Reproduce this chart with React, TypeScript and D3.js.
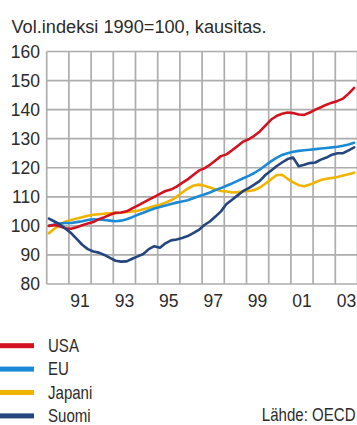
import React from "react";
import * as d3 from "d3";

const W = 357;
const H = 425;

const startYear = 1990;
const yTicks = [80, 90, 100, 110, 120, 130, 140, 150, 160];
const xTickYears = [1991, 1993, 1995, 1997, 1999, 2001, 2003];
const xTickLabels = ["91", "93", "95", "97", "99", "01", "03"];

// quarterly values 1990Q1 .. 2003Q4
const usa = [
  100, 100.3, 99.8, 99.2,
  99, 99.5, 100.2, 100.8,
  101.3, 102.3, 103, 103.8,
  104.5, 104.6, 105, 106,
  107, 108, 109, 110,
  111, 112, 112.5, 113.5,
  114.8, 116, 117.5, 119,
  119.8, 121, 122.5, 124,
  124.6, 126, 127.5, 129,
  129.8, 131, 132.5, 134.5,
  136.5, 137.8, 138.6, 139,
  138.8, 138.3, 138.2, 139,
  140, 140.8, 141.7, 142.4,
  143, 143.8, 145.5, 147.5,
];
const eu = [
  100, 100.5, 100.8, 101,
  101, 101.3, 101.6, 102,
  102.3, 102.2, 102, 101.8,
  101.6, 101.8, 102.3, 103,
  103.8, 104.5, 105.3, 106,
  106.5, 107, 107.5, 108,
  108.4, 108.8, 109.5, 110.2,
  110.8, 111.5, 112.3, 113,
  113.8, 114.6, 115.5, 116.4,
  117.2, 118.2, 119.4, 120.8,
  122.2, 123.4, 124.4, 125,
  125.5, 125.8, 126, 126.2,
  126.4, 126.6, 126.8, 127,
  127.2, 127.6, 128, 128.6,
];
const japani = [
  97.5, 99, 100.5, 101.5,
  102, 102.5, 103, 103.5,
  103.8, 104, 104.2, 104.3,
  104.4, 104.5, 104.8, 105,
  105.2, 105.7, 106.2, 106.8,
  107.3, 108, 108.8, 110,
  111.5, 112.8, 113.8, 114.2,
  113.8, 113.2, 112.5, 112,
  111.8, 111.5, 111.6, 111.8,
  112, 112.3, 113.2, 114.5,
  116, 117.4, 117.6, 116.2,
  115, 114, 113.6, 114.2,
  115, 115.8, 116.2, 116.5,
  116.8, 117.3, 117.8, 118.3,
];
const suomi = [
  102.5, 101.5, 100.5, 99,
  97.5, 95.5, 93.5, 92,
  91.2, 90.8, 90, 89,
  88, 87.7, 87.8, 88.7,
  89.5, 90.3, 92, 93,
  92.5, 94, 95, 95.3,
  95.8, 96.5, 97.5, 98.6,
  100.3, 101.5, 103.2, 105,
  107.5, 109, 110.5, 112,
  113, 114.2, 115.5, 117.5,
  119, 120.5, 121.8, 123,
  123.5, 120.5, 121, 121.6,
  121.8, 122.8, 123.5, 124.5,
  125, 125, 126, 127,
];

const seriesNames = ["USA", "EU", "Japani", "Suomi"];
const seriesColors = ["#d3121f", "#1a8ad6", "#f0b400", "#24457e"];
const seriesData = [usa, eu, japani, suomi];
const drawOrder = [2, 1, 0, 3];

const FONT = "'Liberation Sans', Arial, sans-serif";
const TEXT = "#2b2b2b";

export default function App() {
  const left = 46.7;
  const yearW = 22.2;
  const top = 51.5;
  const bottom = 284;
  const x = d3.scaleLinear().domain([startYear, startYear + 14]).range([left, left + 14 * yearW]);
  const y = d3.scaleLinear().domain([80, 160]).range([bottom, top]);
  const line = d3
    .line<number>()
    .x((_, i) => x(startYear + 0.1 + i * 0.25))
    .y((v) => y(v));

  const gridYears = d3.range(startYear, startYear + 15);

  return (
    <svg
      width={W}
      height={H}
      style={{ position: "absolute", left: 0, top: 0, display: "block", background: "#fff" }}
      fontFamily={FONT}
    >
      <text x={11.5} y={33} fontSize={17.5} fill={TEXT} textLength={255} lengthAdjust="spacingAndGlyphs">
        Vol.indeksi 1990=100, kausitas.
      </text>
      <g>
        {yTicks.map((t) => (
          <line key={"h" + t} x1={left} x2={W} y1={y(t)} y2={y(t)} stroke="#adadad" strokeWidth={1.7} />
        ))}
        {gridYears.map((yr) => (
          <line key={"v" + yr} x1={x(yr)} x2={x(yr)} y1={top} y2={bottom} stroke="#adadad" strokeWidth={1.7} />
        ))}
      </g>
      {yTicks.map((t) => (
        <text key={"yl" + t} x={40} y={y(t) + 6.3} fontSize={17.5} fill={TEXT} textAnchor="end">
          {t}
        </text>
      ))}
      {xTickYears.map((yr, i) => (
        <text key={"xl" + yr} x={x(yr + 0.5)} y={306.5} fontSize={17.5} fill={TEXT} textAnchor="middle">
          {xTickLabels[i]}
        </text>
      ))}
      {drawOrder.map((k) => (
        <path
          key={"s" + k}
          d={line(seriesData[k]) || ""}
          fill="none"
          stroke={seriesColors[k]}
          strokeWidth={2.6}
          strokeLinejoin="round"
          strokeLinecap="round"
        />
      ))}
      {seriesNames.map((name, i) => {
        const cy = 345.7 + i * 23.4;
        return (
          <g key={"lg" + name}>
            <rect x={0} y={cy - 2.5} width={34} height={5} fill={seriesColors[i]} />
            <text transform={`translate(48,${cy + 6.2}) scale(0.86,1)`} fontSize={17.5} fill={TEXT}>
              {name}
            </text>
          </g>
        );
      })}
      <text transform="translate(355.5,421) scale(0.86,1)" textAnchor="end" fontSize={17.5} fill={TEXT}>
        Lähde: OECD
      </text>
    </svg>
  );
}
